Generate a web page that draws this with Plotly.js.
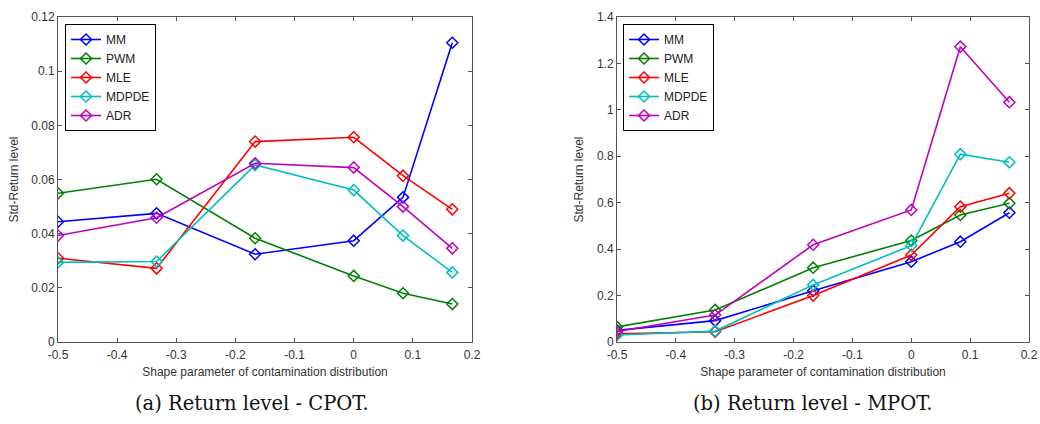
<!DOCTYPE html>
<html>
<head>
<meta charset="utf-8">
<script src="https://cdn.plot.ly/plotly-3.0.1.min.js"></script>
<style>
  html, body { margin: 0; padding: 0; background: #fff; }
  #chart { width: 1040px; height: 424px; }
</style>
</head>
<body>
<div id="chart"></div>
<script>
// Shape parameter values (x)
const shape = [-0.5, -1/3, -1/6, 0, 1/12, 1/6];
const methods = ["MM", "PWM", "MLE", "MDPDE", "ADR"];

// (a) Return level - CPOT
const cpotMM    = [0.0444, 0.0475, 0.0324, 0.0374, 0.0534, 0.1105];
const cpotPWM   = [0.0549, 0.0601, 0.0383, 0.0244, 0.0180, 0.0140];
const cpotMLE   = [0.0309, 0.0272, 0.0740, 0.0756, 0.0614, 0.0490];
const cpotMDPDE = [0.0294, 0.0297, 0.0654, 0.0561, 0.0393, 0.0257];
const cpotADR   = [0.0393, 0.0459, 0.0660, 0.0644, 0.0500, 0.0346];

// (b) Return level - MPOT
const mpotMM    = [0.050, 0.092, 0.221, 0.346, 0.432, 0.557];
const mpotPWM   = [0.065, 0.138, 0.320, 0.437, 0.547, 0.598];
const mpotMLE   = [0.035, 0.044, 0.200, 0.375, 0.583, 0.641];
const mpotMDPDE = [0.030, 0.047, 0.246, 0.415, 0.809, 0.774];
const mpotADR   = [0.045, 0.116, 0.419, 0.569, 1.272, 1.033];

// Tick labels
const xTickVals = [-0.5, -0.4, -0.3, -0.2, -0.1, 0, 0.1, 0.2];
const xTickText = ["-0.5", "-0.4", "-0.3", "-0.2", "-0.1", "0", "0.1", "0.2"];
const yTickValsA = [0, 0.02, 0.04, 0.06, 0.08, 0.1, 0.12];
const yTickTextA = ["0", "0.02", "0.04", "0.06", "0.08", "0.1", "0.12"];
const yTickValsB = [0, 0.2, 0.4, 0.6, 0.8, 1, 1.2, 1.4];
const yTickTextB = ["0", "0.2", "0.4", "0.6", "0.8", "1", "1.2", "1.4"];

const xTitle = "Shape parameter of contamination distribution";
const yTitle = "Std-Return level";
const captions = ["(a) Return level - CPOT.", "(b) Return level - MPOT."];

const colors = ["#0000ff", "#008000", "#ff0000", "#00bfbf", "#bf00bf"];

const seriesA = [cpotMM, cpotPWM, cpotMLE, cpotMDPDE, cpotADR];
const seriesB = [mpotMM, mpotPWM, mpotMLE, mpotMDPDE, mpotADR];

const traces = [];
function addTraces(series, xa, ya, leg) {
  series.forEach((ys, i) => {
    traces.push({
      type: "scatter",
      mode: "lines+markers",
      x: shape,
      y: ys,
      name: methods[i],
      xaxis: xa,
      yaxis: ya,
      legend: leg,
      line: { color: colors[i], width: 1.6 },
      marker: { symbol: "diamond-open", size: 8.5, color: colors[i], line: { width: 1.5, color: colors[i] } }
    });
  });
}
addTraces(seriesA, "x", "y", "legend");
addTraces(seriesB, "x2", "y2", "legend2");

const axFont = { family: "Liberation Sans, Arial, sans-serif", size: 12, color: "#333" };
function xaxis(domain, anchor) {
  return {
    domain: domain, anchor: anchor,
    range: [-0.5, 0.2], tickvals: xTickVals, ticktext: xTickText,
    ticks: "inside", ticklen: 4, tickcolor: "#555", tickwidth: 1,
    showline: true, linecolor: "#555", linewidth: 1, mirror: "ticks",
    showgrid: false, zeroline: false, tickfont: axFont, ticklabelstandoff: 2,
    title: { text: xTitle, font: axFont, standoff: 6 },
    automargin: false
  };
}
function yaxis(domain, anchor, range, vals, text) {
  return {
    domain: domain, anchor: anchor,
    range: range, tickvals: vals, ticktext: text,
    ticks: "inside", ticklen: 4, tickcolor: "#555", tickwidth: 1,
    showline: true, linecolor: "#555", linewidth: 1, mirror: "ticks",
    showgrid: false, zeroline: false, tickfont: axFont,
    title: { text: yTitle, font: axFont, standoff: 10 },
    automargin: false
  };
}

const yDom = [1 - 342/424, 1 - 17/424];
const legendStyle = {
  bgcolor: "#fff", bordercolor: "#000", borderwidth: 1,
  font: { family: "Liberation Sans, Arial, sans-serif", size: 12, color: "#222" },
  xanchor: "left", yanchor: "top", tracegroupgap: 0
};

const layout = {
  width: 1040, height: 424,
  margin: { l: 0, r: 0, t: 0, b: 0 },
  paper_bgcolor: "#fff", plot_bgcolor: "#fff",
  showlegend: true,
  xaxis: xaxis([58/1040, 472/1040], "y"),
  yaxis: yaxis(yDom, "x", [0, 0.12], yTickValsA, yTickTextA),
  xaxis2: xaxis([617/1040, 1029/1040], "y2"),
  yaxis2: yaxis(yDom, "x2", [0, 1.4], yTickValsB, yTickTextB),
  legend: Object.assign({ x: 65/1040, y: 1 - 24/424 }, legendStyle),
  legend2: Object.assign({ x: 623/1040, y: 1 - 24/424 }, legendStyle),
  annotations: [
    { text: captions[0], xref: "paper", yref: "paper", x: 252/1040, y: 1 - 403/424,
      xanchor: "center", yanchor: "middle", showarrow: false,
      font: { family: "DejaVu Serif, serif", size: 19.5, color: "#111" } },
    { text: captions[1], xref: "paper", yref: "paper", x: 813/1040, y: 1 - 403/424,
      xanchor: "center", yanchor: "middle", showarrow: false,
      font: { family: "DejaVu Serif, serif", size: 19.5, color: "#111" } }
  ]
};

Plotly.newPlot("chart", traces, layout, { staticPlot: true, displayModeBar: false });
</script>
</body>
</html>
